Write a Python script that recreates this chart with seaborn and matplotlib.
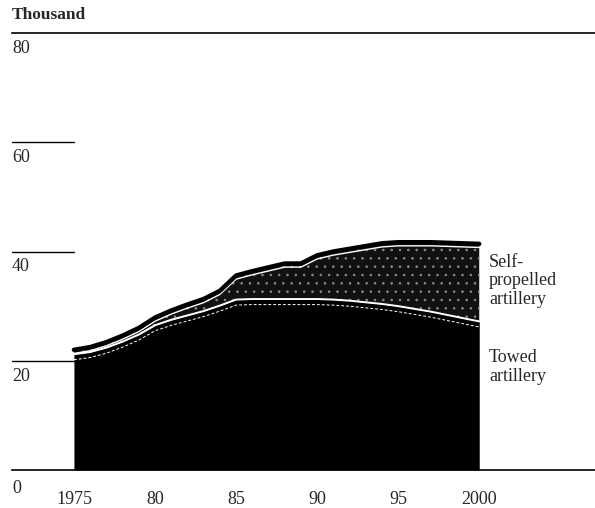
import matplotlib
matplotlib.use("Agg")
import matplotlib.pyplot as plt
import matplotlib.transforms as mtransforms
import seaborn as sns
import numpy as np
import pandas as pd

# ---- data (thousand) ----
years = list(range(1975, 2001))
total = [22.0, 22.5, 23.4, 24.6, 26.0, 27.9, 29.2, 30.3, 31.3, 32.8,
         35.6, 36.4, 37.1, 37.8, 37.8, 39.3, 40.0, 40.5, 41.0, 41.5,
         41.7, 41.7, 41.7, 41.6, 41.5, 41.4]
towed = [21.2, 21.6, 22.4, 23.5, 24.8, 26.5, 27.5, 28.3, 29.1, 30.1,
         31.2, 31.3, 31.3, 31.3, 31.3, 31.3, 31.2, 31.0, 30.7, 30.4,
         30.0, 29.5, 29.0, 28.4, 27.8, 27.2]
xtick_vals = [1975, 1980, 1985, 1990, 1995, 2000]
xtick_labels = ["1975", "80", "85", "90", "95", "2000"]
ytick_vals = [0, 20, 40, 60, 80]
ytick_labels = ["0", "20", "40", "60", "80"]
series_labels = ["Self-\npropelled\nartillery", "Towed\nartillery"]
unit_label = "Thousand"

df = pd.DataFrame({"year": years, "total": total, "towed": towed})

sns.set_theme(style="white")
plt.rcParams["font.family"] = ["Liberation Serif", "DejaVu Serif"]
plt.rcParams["hatch.color"] = "#8c8c8c"
plt.rcParams["hatch.linewidth"] = 0.6

FS = 13

fig = plt.figure(figsize=(5.95, 5.08), dpi=100)
ax = fig.add_axes([12 / 595, 38 / 508, 583 / 595, 437 / 508])
xlim = (1971.18, 2007.14)
ax.set_xlim(*xlim)
ax.set_ylim(0, 80)

# towed (black)
ax.fill_between(df["year"], 0, df["towed"], color="black", lw=0, zorder=2)
# self-propelled (dark speckled)
ax.fill_between(df["year"], df["towed"], df["total"], facecolor="#111111",
                edgecolor="#8c8c8c", hatch="..", lw=0, zorder=2)

# decorative lines
off_dash = mtransforms.offset_copy(ax.transData, fig=fig, y=-4, units="points")
sns.lineplot(x=df["year"], y=df["towed"], ax=ax, color="white", lw=0.7,
             dashes=(3, 2), zorder=3, transform=off_dash)
sns.lineplot(x=df["year"], y=df["towed"], ax=ax, color="white", lw=1.4, zorder=3)
off_in = mtransforms.offset_copy(ax.transData, fig=fig, y=-2.6, units="points")
sns.lineplot(x=df["year"], y=df["total"], ax=ax, color="white", lw=1.0,
             zorder=3, transform=off_in)
sns.lineplot(x=df["year"], y=df["total"], ax=ax, color="black", lw=3.2,
             zorder=4, solid_capstyle="round")

# grid stubs on the left
frac = (years[0] - xlim[0]) / (xlim[1] - xlim[0])
for v in ytick_vals[1:-1]:
    ax.axhline(v, xmin=0, xmax=frac, color="black", lw=1.0, zorder=1)

# spines
for s in ["left", "right"]:
    ax.spines[s].set_visible(False)
for s in ["top", "bottom"]:
    ax.spines[s].set_visible(True)
    ax.spines[s].set_color("black")
    ax.spines[s].set_linewidth(1.2)

ax.set_yticks([])
ax.set_xticks(xtick_vals)
ax.set_xticklabels(xtick_labels, fontsize=FS)
ax.tick_params(axis="x", length=0, pad=15)
ax.set_xlabel("")
ax.set_ylabel("")

# y labels below their lines
for v, lab in zip(ytick_vals, ytick_labels):
    dy = -13 if v == 0 else -11
    ax.annotate(lab, xy=(0, v), xycoords=("axes fraction", "data"),
                xytext=(0, dy), textcoords="offset points",
                ha="left", va="center", fontsize=FS)

# series labels
ax.annotate(series_labels[0], xy=(years[-1], 34.6), xycoords="data",
            xytext=(7, 0), textcoords="offset points", ha="left", va="center",
            fontsize=FS, linespacing=1.15)
ax.annotate(series_labels[1], xy=(years[-1], 18.9), xycoords="data",
            xytext=(7, 0), textcoords="offset points", ha="left", va="center",
            fontsize=FS, linespacing=1.15)

fig.text(12 / 595, 1 - 15 / 508, unit_label, ha="left", va="center",
         fontsize=12.5, fontweight="bold")

fig.savefig("out.png", dpi=100)
